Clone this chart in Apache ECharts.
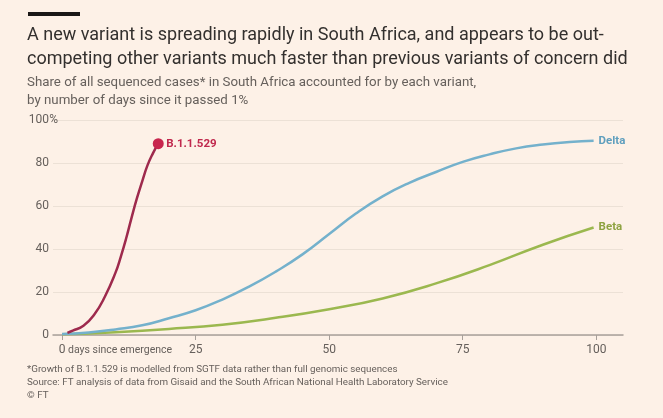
<!DOCTYPE html>
<html>
<head>
<meta charset="utf-8">
<script src="https://cdn.jsdelivr.net/npm/echarts@6/dist/echarts.min.js"></script>
<style>
  html, body { margin: 0; padding: 0; background: #fdf1e7; }
  #chart { width: 663px; height: 418px; }
</style>
</head>
<body>
<div id="chart"></div>
<script>
// days since the variant passed 1%, and share of sequenced cases (%)
const omicronDays = [1, 2, 4, 6, 8, 10, 11, 12, 13, 14, 15, 16, 17, 18];
const omicronShare = [1, 2, 4.3, 9.4, 17.8, 29, 36.5, 45, 54.5, 63.5, 71.5, 79, 84.5, 89];

const deltaDays = [0, 5, 10, 15, 20, 25, 30, 35, 40, 45, 50, 55, 60, 65, 70, 75, 80, 85, 90, 95, 99.5];
const deltaShare = [0.5, 1.2, 2.6, 4.5, 7.8, 11.5, 16.5, 22.5, 29.5, 37.5, 47, 56.5, 64.5, 70.8, 75.8, 80.5, 84, 86.8, 88.6, 89.8, 90.4];

const betaDays = [0, 10, 20, 30, 40, 50, 60, 70, 80, 90, 99.5];
const betaShare = [0.3, 1.3, 2.8, 4.8, 8, 12, 17, 24, 32.5, 42, 50];

const xTicks = [0, 25, 50, 75, 100];

const font = 'Roboto';
const grey = '#66605c';

function pairs(days, vals) {
  return days.map((d, i) => [d, vals[i]]);
}

const omicronData = pairs(omicronDays, omicronShare);
// dot on the last point only
const last = omicronData.pop();
omicronData.push({ value: last, symbol: 'circle', symbolSize: 11 });

const chart = echarts.init(document.getElementById('chart'));

const option = {
  backgroundColor: '#fdf1e7',
  animation: false,
  textStyle: { fontFamily: font },
  title: [
    {
      text: 'A new variant is spreading rapidly in South Africa, and appears to be out-\ncompeting other variants much faster than previous variants of concern did',
      left: 22,
      top: 18,
      textStyle: { fontFamily: font, fontSize: 18, fontWeight: 'normal', color: '#33302e', lineHeight: 24 }
    },
    {
      text: 'Share of all sequenced cases* in South Africa accounted for by each variant,\nby number of days since it passed 1%',
      left: 22,
      top: 69,
      textStyle: { fontFamily: font, fontSize: 13.3, fontWeight: 'normal', color: grey, lineHeight: 18 }
    },
    {
      text: '*Growth of B.1.1.529 is modelled from SGTF data rather than full genomic sequences\nSource: FT analysis of data from Gisaid and the South African National Health Laboratory Service\n© FT',
      left: 22,
      top: 358,
      textStyle: { fontFamily: font, fontSize: 9.8, fontWeight: 'normal', color: grey, lineHeight: 13 }
    }
  ],
  graphic: [
    { type: 'rect', left: 28, top: 12, shape: { width: 52, height: 4 }, style: { fill: '#1a1817' } },
    {
      type: 'text', left: 68, top: 345,
      style: { text: 'days since emergence', fontFamily: font, fontSize: 10.5, fill: grey }
    }
  ],
  grid: { left: 53, right: 40, top: 120, bottom: 83 },
  xAxis: {
    type: 'value',
    min: -1.7,
    max: 105,
    axisLine: { show: true, lineStyle: { color: '#a8a09a', width: 1.5 } },
    axisTick: { show: true, customValues: xTicks, length: 5, lineStyle: { color: '#a8a09a' } },
    axisLabel: { customValues: xTicks, color: grey, fontSize: 12, margin: 9 },
    splitLine: { show: false }
  },
  yAxis: {
    type: 'value',
    min: 0,
    max: 100,
    interval: 20,
    axisLine: { show: false },
    axisTick: { show: false },
    axisLabel: {
      color: grey,
      fontSize: 12,
      margin: -5,
      formatter: v => v === 100 ? '{n|100}{p|%}' : '{n|' + v + '}{p|}',
      rich: {
        n: { color: grey, fontSize: 12, fontFamily: font },
        p: { color: grey, fontSize: 12, fontFamily: font, width: 9 }
      }
    },
    splitLine: { lineStyle: { color: '#ece1d6', width: 1 } }
  },
  series: [
    {
      name: 'Beta',
      type: 'line',
      smooth: true,
      showSymbol: false,
      data: pairs(betaDays, betaShare),
      lineStyle: { color: '#9bb84f', width: 2.5 },
      endLabel: {
        show: true, formatter: '{a}', distance: 5,
        color: '#8ea342', fontSize: 11.5, fontWeight: 'bold', fontFamily: font
      }
    },
    {
      name: 'Delta',
      type: 'line',
      smooth: true,
      showSymbol: false,
      data: pairs(deltaDays, deltaShare),
      lineStyle: { color: '#74b1cc', width: 2.5 },
      endLabel: {
        show: true, formatter: '{a}', distance: 5,
        color: '#5f9fbe', fontSize: 11.5, fontWeight: 'bold', fontFamily: font
      }
    },
    {
      name: 'B.1.1.529',
      type: 'line',
      smooth: true,
      symbol: 'none',
      showSymbol: true,
      data: omicronData,
      itemStyle: { color: '#c8264e' },
      lineStyle: { color: '#9e2a4d', width: 2.5 },
      endLabel: {
        show: true, formatter: '{a}', distance: 8,
        color: '#c0284d', fontSize: 11.5, fontWeight: 'bold', fontFamily: font
      }
    }
  ]
};

chart.setOption(option);
</script>
</body>
</html>
